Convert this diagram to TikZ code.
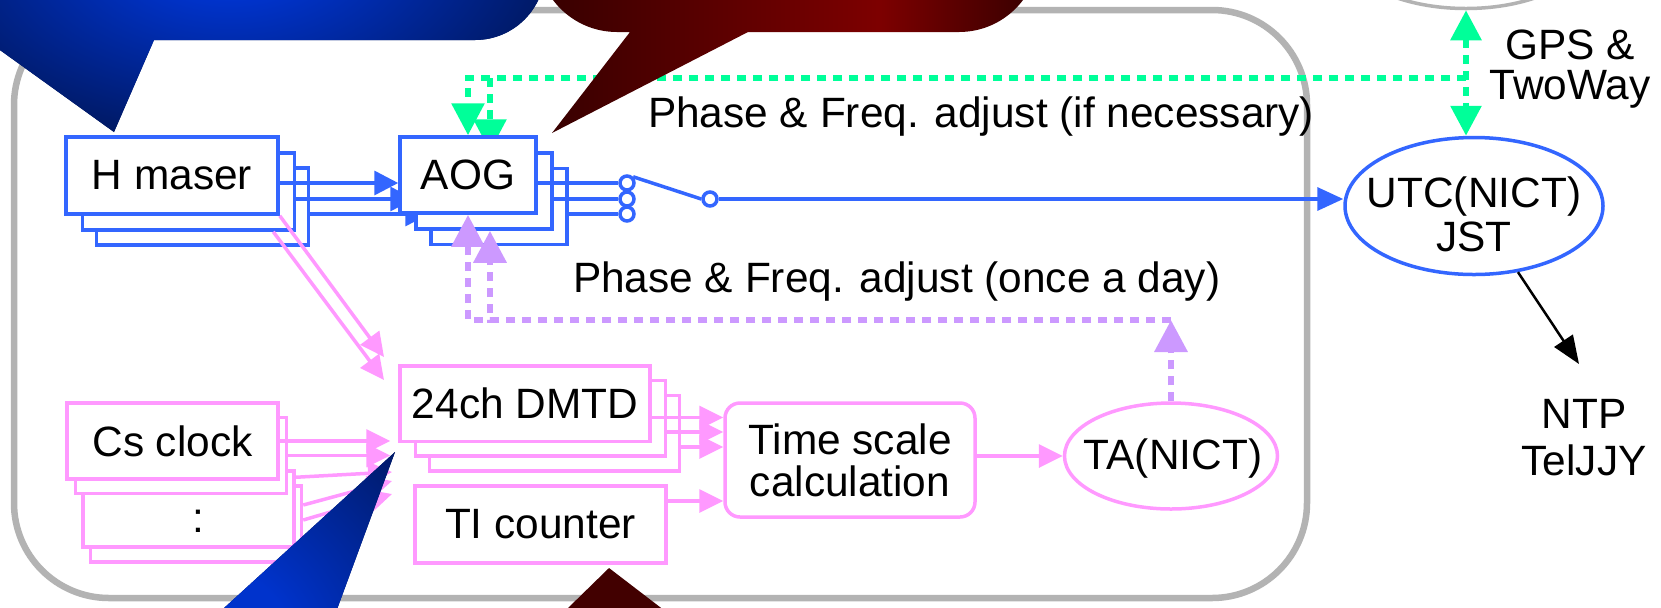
\documentclass[tikz,border=0pt]{standalone}
\usepackage{fontspec}
\setmainfont{Liberation Sans}
\usetikzlibrary{arrows.meta,shapes.geometric}
\pgfdeclarelayer{back}
\pgfdeclarelayer{top}
\pgfsetlayers{back,main,top}
\definecolor{cblue}{RGB}{51,102,255}
\definecolor{cpink}{RGB}{255,153,255}
\definecolor{cpurple}{RGB}{204,153,255}
\definecolor{cgreen}{RGB}{0,255,153}
\definecolor{cgray}{RGB}{179,179,179}
\definecolor{cbB}{RGB}{0,51,204}
\definecolor{cbD}{RGB}{0,24,96}
\definecolor{crB}{RGB}{125,0,0}
\definecolor{crD}{RGB}{58,0,0}
\definecolor{crT}{RGB}{66,0,0}
\pgfdeclareradialshading{blueglow}{\pgfpointorigin}{color(0bp)=(cbB); color(6bp)=(cbB); color(25bp)=(cbD); color(50bp)=(cbD)}
\pgfdeclareradialshading{blueglowb}{\pgfpointorigin}{color(0bp)=(cbB); color(8bp)=(cbB); color(25bp)=(cbD); color(50bp)=(cbD)}
\pgfdeclarehorizontalshading{redbar}{100bp}{color(0bp)=(crD); color(27bp)=(crD); color(59bp)=(crB); color(74bp)=(crD); color(100bp)=(crD)}
\begin{document}
\begin{tikzpicture}[x=0.5pt,y=-0.5pt]
\tikzset{
  txt/.style={font=\fontsize{21.2pt}{21.5pt}\selectfont},
  lbl/.style={txt, inner sep=0pt, outer sep=0pt},
  bbox/.style={rectangle, draw=cblue, line width=1.75pt, fill=white, inner sep=0pt, txt},
  pbox/.style={rectangle, draw=cpink, line width=1.75pt, fill=white, inner sep=0pt, txt},
  hbox/.style={bbox, minimum width=106pt, minimum height=38.5pt},
  abox/.style={bbox, minimum width=68pt, minimum height=38pt},
  cbox/.style={pbox, minimum width=105.5pt, minimum height=38pt},
  dbox/.style={pbox, minimum width=125pt, minimum height=37.75pt},
  swc/.style={circle, draw=cblue, line width=1.75pt, fill=white, minimum size=7pt, inner sep=0pt},
  bl/.style={draw=cblue, line width=1.75pt},
  blarr/.style={bl, -{Triangle[length=12pt,width=12pt]}},
  pk/.style={draw=cpink, line width=1.75pt, -{Triangle[length=12pt,width=11.5pt]}},
  gdot/.style={draw=cgreen, line width=3pt, dash pattern=on 4.5pt off 3.5pt},
  pdot/.style={draw=cpurple, line width=3.25pt, dash pattern=on 4.5pt off 3.5pt},
  dhead/.style={-{Triangle[length=16pt,width=16pt]}},
}
\useasboundingbox (0,0) rectangle (1661,607);
\begin{pgfonlayer}{back}
\fill[white] (0,0) rectangle (1661,607);
\draw[cgray, line width=3.25pt, rounded corners=47.5pt] (14,10) rectangle (1307,598);
\node[ellipse, draw=cgray, line width=1.75pt, minimum width=129pt, minimum height=68.5pt, inner sep=0pt] (sat) at (1466,-60) {};
\node[hbox] (hm3) at (202.5,206.5) {};
\node[hbox] (hm2) at (188.5,191.5) {};
\node[hbox] (hm1) at (172,175.5) {H maser};
\end{pgfonlayer}

% AOG stack
\node[abox] (aog3) at (499,206.5) {};
\node[abox] (aog2) at (484,191) {};
\node[abox] (aog1) at (468,175) {AOG};

% switch
\node[swc] (sa) at (627,183) {};
\node[swc] (sb) at (627,199) {};
\node[swc] (sc) at (627,214) {};
\node[swc] (sw) at (710,199) {};
\draw[bl] (aog1.east |- sa) -- (sa);
\draw[bl] (aog2.east |- sb) -- (sb);
\draw[bl] (aog3.east |- sc) -- (sc);
\draw[bl] (sa.north east) -- (sw.west);

% UTC
\node[ellipse, draw=cblue, line width=1.75pt, fill=white, minimum width=129pt, minimum height=68.5pt, inner sep=0pt] (utc) at (1474,206) {};
\node[lbl, align=center, font=\fontsize{21.2pt}{22pt}\selectfont] (utct) at (1474,214.5) {UTC(NICT)\\JST};
\draw[bl, -{Triangle[length=13pt,width=11.5pt]}] (sw.east) -- (sw.east -| utc.west);

\begin{pgfonlayer}{back}
\draw[blarr] (hm1.east |- sa) -- (aog1.west |- sa);
\draw[blarr] (hm2.east |- sb) -- (aog2.west |- sb);
\draw[blarr] (hm3.east |- sc) -- (aog3.west |- sc);
\coordinate (gj) at (1466,78);
\draw[gdot, dhead] (gj) -| (aog1.north);
\draw[gdot, dhead] (gj) -| ([xshift=3pt]aog2.north);
\draw[gdot, {Triangle[length=15pt,width=15pt]}-{Triangle[length=15pt,width=15pt]}] (sat.south) -- (sat.south |- utc.north);
\end{pgfonlayer}

% Cs stack
\node[cbox] (cs4) at (196,524) {};
\node[cbox] (cs3) at (188.5,509) {\hspace*{9.5pt}\raisebox{-11.5pt}[0pt][0pt]{:}};
\node[cbox] (cs2) at (181,455.5) {};
\node[cbox] (cs1) at (172.5,441) {Cs clock};

% DMTD stack
\node[dbox] (dm3) at (554.5,433) {};
\node[dbox] (dm2) at (540.5,418) {};
\node[dbox] (dm1) at (525,403.5) {24ch DMTD};
\node[pbox, minimum width=125.5pt, minimum height=38.5pt] (ti) at (540.5,524.5) {TI counter};
\node[pbox, rounded corners=7.5pt, minimum width=125pt, minimum height=57pt, align=center, font=\fontsize{21.2pt}{21pt}\selectfont] (ts) at (850,460) {Time scale\\calculation};
\node[ellipse, draw=cpink, line width=1.75pt, fill=white, minimum width=106.5pt, minimum height=53pt, inner sep=0pt] (ta) at (1171,456) {};
\node[lbl] (tat) at (1173,459) {TA(NICT)};

% pink connectors
\coordinate (hd1) at (384,357);
\coordinate (hd2) at (384,380);
\draw[pk] (hm1.south east) -- (hd1);
\draw[pk] ([xshift=-11.5pt]hm2.south east) -- (hd2);
\draw[pk] (cs1.east) -- ([xshift=-4pt]cs1.east -| dm1.west);
\draw[pk] (cs2.east) -- ([xshift=-4pt]cs2.east -| dm1.west);
\coordinate (t3) at (392,472);
\coordinate (t4) at (392,481);
\coordinate (t5) at (392,494);
\draw[pk] ([yshift=-4pt]cs3.north east) -- (t3);
\draw[pk] ([yshift=9.5pt]cs4.east) -- (t4);
\draw[pk] ([yshift=2pt]cs4.east) -- (t5);
\draw[pk] ([yshift=-7pt]dm1.east) -- ([yshift=-7pt]dm1.east -| ts.west);
\draw[pk] ([yshift=-7pt]dm2.east) -- ([yshift=-7pt]dm2.east -| ts.west);
\draw[pk] ([yshift=-7pt]dm3.east) -- ([yshift=-7pt]dm3.east -| ts.west);
\draw[pk] ([yshift=11.75pt]ti.east) -- ([yshift=11.75pt]ti.east -| ts.west);
\draw[pk] (ts.east |- ta) -- (ta.west);

% purple connectors
\coordinate (py) at (0,320);
\draw[pdot, dhead] (ta.north) -- (ta.north |- py);
\draw[pdot, dhead] (ta.north |- py) -| (aog1.south);
\draw[pdot, dhead] (ta.north |- py) -| ([xshift=3pt]aog2.south);

% labels
\node[lbl, anchor=base west] (l1) at (648,127) {Phase \& Freq. adjust (if necessary)};
\node[lbl, anchor=base west] (l2) at (573,292) {Phase \& Freq. adjust (once a day)};
\node[lbl, align=center, font=\fontsize{21.2pt}{20pt}\selectfont] (gps) at (1570,69) {GPS \&\\TwoWay};
\node[lbl, align=center, font=\fontsize{21.2pt}{23.5pt}\selectfont] (ntp) at (1584,438) {NTP\\TelJJY};
\coordinate (ntptip) at (1579,364);
\draw[line width=1.25pt, -{Triangle[length=14pt,width=11pt]}] (utc) -- (ntptip);

% callouts
\begin{pgfonlayer}{top}
\begin{scope}
\clip (-300,-300) -- (545,-300) -- (545,-30) .. controls (545,8.7) and (513.7,40) .. (475,40) -- (154,40) -- (114,132) -- (-14,40) -- (-300,40) -- cycle;
\fill[cbD] (-300,-300) rectangle (600,200);
\shade[shading=blueglow] (230,-50) ellipse (170pt and 100pt);
\end{scope}
\begin{scope}
\clip (537,-300) -- (537,-48) .. controls (537,-3.8) and (572.8,32) .. (617,32) -- (630,32) -- (552,133) -- (748,32) -- (959,32) .. controls (1003.2,32) and (1039,-3.8) .. (1039,-48) -- (1039,-300) -- cycle;
\shade[shading=redbar] (537,-300) rectangle (1039,140);
\end{scope}
\begin{scope}
\clip (395,452) -- (322,650) -- (178,650) -- cycle;
\fill[cbD] (150,440) rectangle (420,660);
\shade[shading=blueglowb] (200,660) circle (150pt);
\end{scope}
\fill[crT] (609,568) -- (716,650) -- (525,650) -- cycle;
\end{pgfonlayer}
\end{tikzpicture}
\end{document}
